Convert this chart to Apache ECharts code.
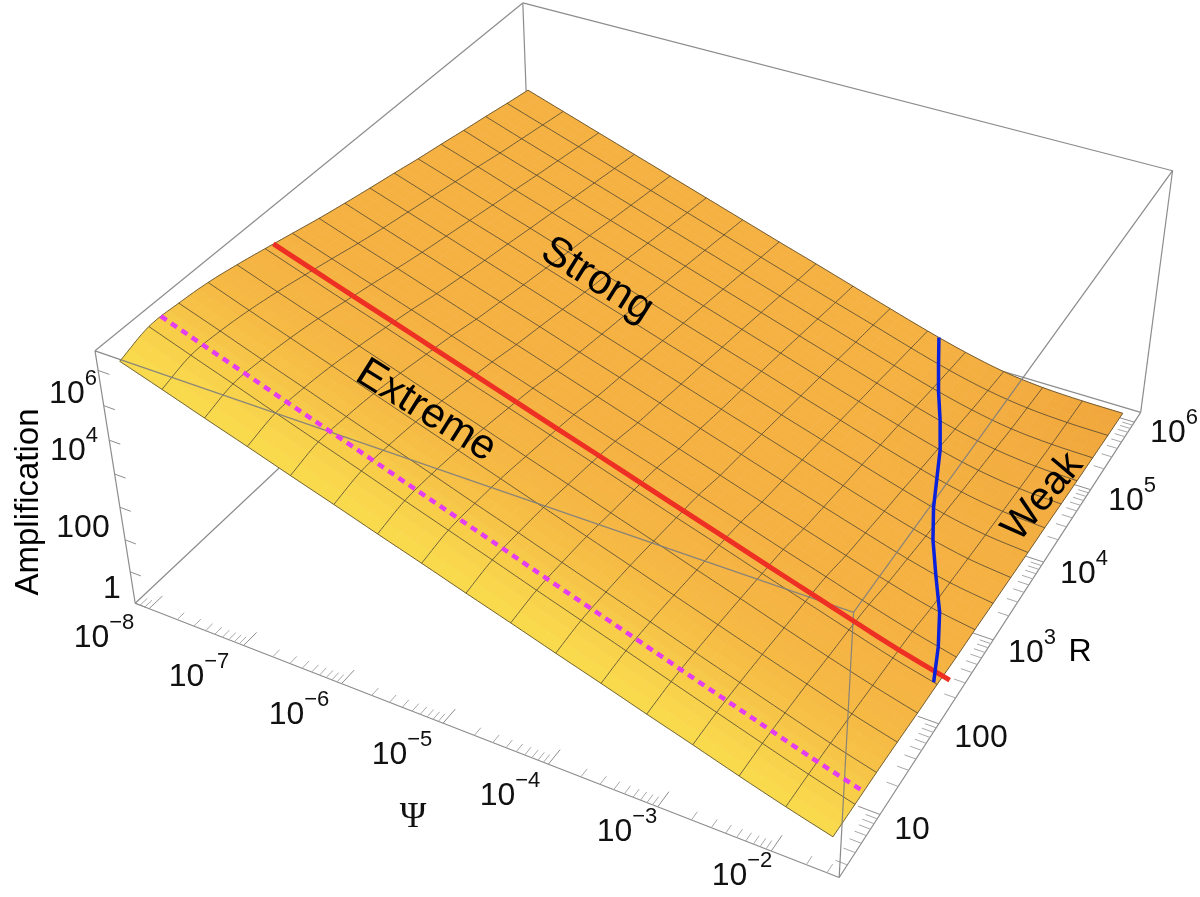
<!DOCTYPE html>
<html><head><meta charset="utf-8"><style>html,body{margin:0;background:#fff}#c{width:1200px;height:897px}</style>
<script src="https://cdn.jsdelivr.net/npm/echarts@6/dist/echarts.min.js"></script></head><body><div id="c"></div>
<script>
// log10(Amplification), one array per mesh line of constant R, along Psi
const logAmpR00=[7.10,6.70,6.29,5.89,5.48,5.08,4.67,4.27,3.86,3.46,3.05,2.65,2.24,1.84,1.43,1.04,0.68];
const logAmpR01=[7.37,6.94,6.52,6.09,5.67,5.25,4.82,4.40,3.98,3.55,3.13,2.71,2.28,1.86,1.44,1.03,0.65];
const logAmpR02=[7.34,6.92,6.49,6.07,5.64,5.22,4.80,4.37,3.95,3.52,3.10,2.68,2.25,1.83,1.41,1.00,0.63];
const logAmpR03=[7.25,6.82,6.40,5.98,5.56,5.14,4.72,4.30,3.88,3.46,3.04,2.61,2.19,1.77,1.36,0.95,0.59];
const logAmpR04=[7.09,6.67,6.26,5.84,5.43,5.01,4.60,4.18,3.77,3.35,2.94,2.52,2.11,1.69,1.28,0.89,0.54];
const logAmpR05=[6.90,6.49,6.08,5.68,5.27,4.86,4.46,4.05,3.65,3.24,2.83,2.43,2.02,1.62,1.22,0.83,0.50];
const logAmpR06=[6.70,6.30,5.90,5.51,5.11,4.71,4.31,3.91,3.51,3.12,2.72,2.32,1.92,1.53,1.13,0.76,0.44];
const logAmpR07=[6.50,6.10,5.71,5.31,4.91,4.52,4.12,3.72,3.32,2.93,2.53,2.13,1.74,1.35,0.97,0.63,0.41];
const logAmpR08=[6.32,5.92,5.53,5.14,4.75,4.36,3.96,3.57,3.18,2.79,2.40,2.00,1.61,1.23,0.86,0.56,0.37];
const logAmpR09=[6.15,5.76,5.37,4.98,4.59,4.20,3.81,3.42,3.03,2.64,2.26,1.87,1.48,1.10,0.75,0.48,0.33];
const logAmpR10=[5.99,5.60,5.21,4.83,4.44,4.05,3.67,3.28,2.90,2.51,2.12,1.74,1.36,0.99,0.65,0.41,0.29];
const logAmpR11=[5.82,5.44,5.05,4.67,4.28,3.90,3.52,3.13,2.75,2.37,1.98,1.60,1.22,0.86,0.55,0.35,0.26];
const logAmpR12=[5.67,5.29,4.90,4.52,4.14,3.76,3.37,2.99,2.61,2.23,1.84,1.46,1.09,0.74,0.46,0.29,0.22];
const logAmpR13=[5.51,5.12,4.74,4.36,3.98,3.60,3.22,2.84,2.46,2.08,1.70,1.32,0.95,0.62,0.37,0.23,0.18];
const logAmpR14=[5.36,4.97,4.59,4.21,3.83,3.45,3.07,2.69,2.31,1.93,1.55,1.17,0.81,0.50,0.28,0.18,0.15];
const logAmpR15=[5.20,4.82,4.44,4.06,3.68,3.30,2.92,2.54,2.16,1.78,1.41,1.03,0.68,0.40,0.22,0.14,0.12];
const logAmpR16=[5.05,4.67,4.29,3.91,3.53,3.15,2.77,2.39,2.02,1.64,1.26,0.89,0.56,0.30,0.16,0.11,0.10];
const Z=[logAmpR00,logAmpR01,logAmpR02,logAmpR03,logAmpR04,logAmpR05,logAmpR06,logAmpR07,logAmpR08,logAmpR09,logAmpR10,logAmpR11,logAmpR12,logAmpR13,logAmpR14,logAmpR15,logAmpR16];
// boundary curves in mesh-line units
const blueR=[5,6,7,8,9,10,11,12,13,14,15,16];
const bluePsi=[15.92,15.59,15.19,14.67,14.17,13.75,13.4,13.05,12.62,12.15,11.72,11.30];
const redJ=5.3, magJ=1.4;
const psiRange=[-8.15,-1.42], rRange=[0.35,6.15], ampRange=[0,7.55];
const psiStart=-8.04, psiStep=0.4055, psiN=17, rStart=0.477, rStep=0.347, rN=17;
const psiExp=[-9,-8,-7,-6,-5,-4,-3,-2], rExp=[0,1,2,3,4,5,6], minors=[2,3,4,5,6,7,8,9], ampExp=[0,1,2,3,4,5,6,7];
const axisLabels=[['10','−8',104,637],['10','−7',199,676],['10','−6',299,714],['10','−5',402,754],['10','−4',510,795],['10','−3',627,831],['10','−2',742,875],
['10','',912,829],['100','',981,737],['10','3',1032,652],['10','4',1084,573],['10','5',1132,500],['10','6',1174,432],
['1','',112,588],['100','',83,527],['10','4',74,450],['10','6',73,393]];
const notes=[{t:'Strong',x:597,y:280,r:32,f:42},{t:'Extreme',x:426,y:411,r:32,f:42},{t:'Weak',x:1043,y:497,r:-50,f:40},{t:'Amplification',x:29,y:502,r:-90,f:33},{t:'R',x:1080,y:652,r:0,f:32}];
// camera: the projection is fitted to the visible corners of the plot box
const cornerBox=[[0,0,0],[1,0,0],[1,1,0],[0,0,1],[1,0,1],[1,1,1],[0,1,1]];
const cornerPx=[[135,603],[839,877],[1141,413],[95,351],[854,613],[1172,170],[523,3]];
function solve(){const A=[],B=[];cornerBox.forEach((c,k)=>{const[x,y]=cornerPx[k];const[a,b,d]=c;A.push([a,b,d,1,0,0,0,0,-x*a,-x*b,-x*d]);B.push(x);A.push([0,0,0,0,a,b,d,1,-y*a,-y*b,-y*d]);B.push(y);});
const n=11,M=[];for(let r=0;r<n;r++){const row=[];for(let c=0;c<n;c++){let s=0;A.forEach(q=>s+=q[r]*q[c]);row.push(s);}let s=0;A.forEach((q,k)=>s+=q[r]*B[k]);row.push(s);M.push(row);}
for(let c=0;c<n;c++){let p=c;for(let r=c+1;r<n;r++)if(Math.abs(M[r][c])>Math.abs(M[p][c]))p=r;[M[c],M[p]]=[M[p],M[c]];for(let r=0;r<n;r++){if(r==c)continue;const f=M[r][c]/M[c][c];for(let k=c;k<=n;k++)M[r][k]-=f*M[c][k];}}
return M.map((r,k)=>r[n]/r[k]);}
const P=solve();
function proj(u,r,z){const a=(u-psiRange[0])/(psiRange[1]-psiRange[0]),b=(r-rRange[0])/(rRange[1]-rRange[0]),c=(z-ampRange[0])/(ampRange[1]-ampRange[0]);const w=P[8]*a+P[9]*b+P[10]*c+1;return[(P[0]*a+P[1]*b+P[2]*c+P[3])/w,(P[4]*a+P[5]*b+P[6]*c+P[7])/w];}
const cr=(a,b,c,e,t)=>b+.5*t*(c-a+t*(2*a-5*b+4*c-e+t*(3*(b-c)+e-a)));
const gz=(i,j)=>{const jj=Math.max(0,Math.min(rN-1,j)),ii=Math.max(0,Math.min(psiN-1,i));return Z[jj][ii]+(i-ii)*(ii==0?Z[jj][1]-Z[jj][0]:Z[jj][ii]-Z[jj][ii-1])+(j-jj)*(jj==0?Z[1][ii]-Z[0][ii]:Z[jj][ii]-Z[jj-1][ii]);};
function zAt(pi,pj){const i=Math.max(0,Math.min(Math.floor(pi),psiN-2)),j=Math.max(0,Math.min(Math.floor(pj),rN-2)),f=pi-i,g=pj-j;const col=k=>cr(gz(k,j-1),gz(k,j),gz(k,j+1),gz(k,j+2),g);return cr(col(i-1),col(i),col(i+1),col(i+2),f);}
const nodeP=(pi,pj)=>proj(psiStart+pi*psiStep,rStart+pj*rStep,zAt(pi,pj));
const rowCol=[[249,220,78],[248,208,74],[246,194,70],[245,186,68],[245,181,67],[245,179,67],[245,178,67]];
const deep=[240,166,60];
function colAt(pi,pj){const k=Math.min(pj,6),k0=Math.min(Math.floor(k),5),t=k-k0;let c=[0,1,2].map(n=>rowCol[k0][n]*(1-t)+rowCol[k0+1][n]*t);const w=Math.max(0,Math.min(1,(pi-11)/5))*Math.max(0,Math.min(1,(pj-8)/8));c=c.map((v,n)=>v*(1-w)+deep[n]*w);return`rgb(${c.map(Math.round).join(',')})`;}
const cells=[];const SUB=3;for(let j=0;j<rN-1;j++)for(let i=0;i<psiN-1;i++)for(let s=0;s<SUB;s++)for(let t=0;t<SUB;t++)cells.push([i+s/SUB,j+t/SUB]);
const d=1/SUB;
const bx=(a,b,c)=>{const u=psiRange[0]+a*(psiRange[1]-psiRange[0]),r=rRange[0]+b*(rRange[1]-rRange[0]),z=ampRange[0]+c*(ampRange[1]-ampRange[0]);return proj(u,r,z);};
const backEdges=[[[0,0,0],[1,0,0]],[[1,0,0],[1,1,0]],[[1,1,0],[0,1,0]],[[0,1,0],[0,0,0]],[[0,0,0],[0,0,1]],[[0,0,1],[0,1,1]],[[0,1,1],[1,1,1]],[[1,1,1],[1,1,0]],[[0,1,0],[0,1,1]]].map(e=>e.map(p=>bx(...p)));
const frontEdges=[[[0,0,1],[1,0,1]],[[1,0,1],[1,1,1]],[[1,0,1],[1,0,0]]].map(e=>e.map(p=>bx(...p)));
const majorSegs=[],minorSegs=[];
const LEN=0.028,LENS=0.015;
psiExp.forEach(e=>{[1].concat(minors).forEach(m=>{const u=e+Math.log10(m);if(u<psiRange[0]||u>psiRange[1])return;const L=m==1?LEN:LENS;(m==1?majorSegs:minorSegs).push([proj(u,rRange[0],0),proj(u,rRange[0]+L*(rRange[1]-rRange[0]),0)]);});});
rExp.forEach(e=>{[1].concat(minors).forEach(m=>{const r=e+Math.log10(m);if(r<rRange[0]||r>rRange[1])return;const L=m==1?LEN:LENS;(m==1?majorSegs:minorSegs).push([proj(psiRange[1],r,0),proj(psiRange[1]-L*(psiRange[1]-psiRange[0]),r,0)]);});});
ampExp.forEach(e=>{majorSegs.push([proj(psiRange[0],rRange[0],e),proj(psiRange[0]+.017*(psiRange[1]-psiRange[0]),rRange[0],e)]);});
const meshSegs=[];
for(let i=0;i<psiN;i++){const p=[];for(let j=0;j<rN-1+.001;j+=.125)p.push(nodeP(i,j));meshSegs.push(p);}
for(let j=0;j<rN;j++){const p=[];for(let i=0;i<psiN-1+.001;i+=.25)p.push(nodeP(i,j));meshSegs.push(p);}
const redPts=[];for(let i=0;i<=16.001;i+=.5)redPts.push(nodeP(i,redJ));redPts.push(nodeP(16.15,redJ));
const magPts=[];for(let i=0;i<=16.001;i+=.5)magPts.push(nodeP(i,magJ));
const bluePts=blueR.map((j,k)=>nodeP(bluePsi[k],j));
const sup=(b,s)=>`{b|${b}}{s|${s}}`;
const rich={b:{fontSize:32,fontFamily:'Liberation Sans',lineHeight:42,verticalAlign:'bottom',fill:'#111'},s:{fontSize:22,fontFamily:'Liberation Sans',lineHeight:42,verticalAlign:'top',fill:'#111'}};
const DIGIT=4;
const texts=axisLabels.map(l=>({t:sup(l[0],l[1]),x:l[2],y:l[3]-DIGIT}));
function polyEl(pts,style,api){return{type:'polyline',shape:{points:pts.map(p=>api.coord(p))},style:Object.assign({fill:null},style),silent:true};}
const layer=(z,segs,style)=>({type:'custom',coordinateSystem:'cartesian2d',xAxisIndex:0,yAxisIndex:0,z,clip:false,silent:true,animation:false,data:segs.map((_,k)=>[k]),renderItem:(p,api)=>polyEl(segs[p.dataIndex],style,api)});
const opt={animation:false,grid:{left:0,right:0,top:0,bottom:0},xAxis:{type:'value',min:0,max:1200,show:false},yAxis:{type:'value',min:0,max:897,inverse:true,show:false},
series:[
layer(1,backEdges,{stroke:'#8c8c8c',lineWidth:1.2}),
layer(1,majorSegs,{stroke:'#8c8c8c',lineWidth:1}),
layer(1,minorSegs,{stroke:'#a8a8a8',lineWidth:1}),
{type:'custom',coordinateSystem:'cartesian2d',z:2,clip:false,silent:true,animation:false,data:cells.map((c,k)=>[k]),renderItem:(p,api)=>{const[i,j]=cells[p.dataIndex];const pts=[nodeP(i,j),nodeP(i+d,j),nodeP(i+d,j+d),nodeP(i,j+d)].map(q=>api.coord(q));const col=colAt(i+d/2,j+d/2);return{type:'polygon',shape:{points:pts},style:{fill:col,stroke:col,lineWidth:.7},silent:true};}},
layer(3,meshSegs,{stroke:'rgba(70,62,45,.75)',lineWidth:1}),
layer(4,frontEdges,{stroke:'rgba(125,125,125,.9)',lineWidth:1.2}),
layer(5,[magPts],{stroke:'#e43cf0',lineWidth:4.5,lineDash:[7,5.5]}),
layer(5,[redPts],{stroke:'#ee2f24',lineWidth:5}),
layer(6,[bluePts],{stroke:'#0a22dc',lineWidth:3.5}),
{type:'custom',coordinateSystem:'cartesian2d',z:7,clip:false,silent:true,animation:false,data:texts.map((_,k)=>[k]),renderItem:(p,api)=>{const t=texts[p.dataIndex],c=api.coord([t.x,t.y]);return{type:'text',x:c[0],y:c[1],style:{text:t.t,rich,align:'center',verticalAlign:'middle'},silent:true};}},
{type:'custom',coordinateSystem:'cartesian2d',z:7,clip:false,silent:true,animation:false,data:notes.map((_,k)=>[k]),renderItem:(p,api)=>{const t=notes[p.dataIndex],c=api.coord([t.x,t.y]);return{type:'text',x:c[0],y:c[1],rotation:-t.r*Math.PI/180,style:{text:t.t,fontSize:t.f,fontFamily:'Liberation Sans',fill:'#000',align:'center',verticalAlign:'middle'},silent:true};}},
{type:'custom',coordinateSystem:'cartesian2d',z:7,clip:false,silent:true,animation:false,data:[[0]],renderItem:(p,api)=>{const c=api.coord([413,818]);return{type:'text',x:c[0],y:c[1],style:{text:'Ψ',fontSize:36,fontFamily:'Liberation Serif',fill:'#111',align:'center',verticalAlign:'middle'},silent:true};}}
]};
echarts.init(document.getElementById('c'),null,{renderer:'canvas'}).setOption(opt);
</script></body></html>
